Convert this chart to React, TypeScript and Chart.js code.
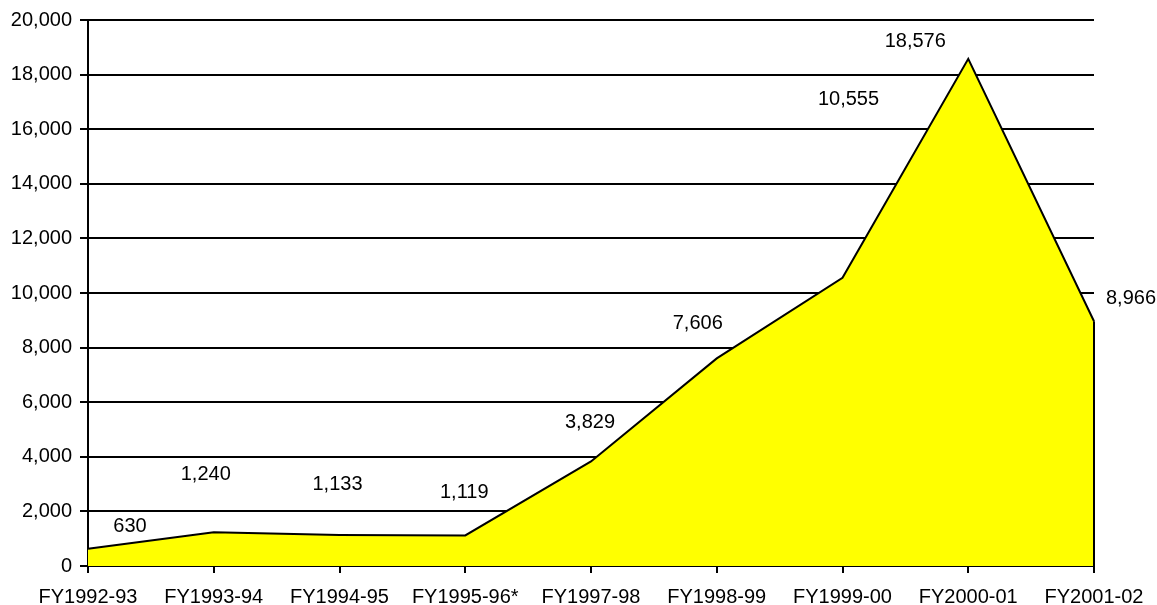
import React, { useEffect, useRef } from "react";
import { Chart, registerables } from "chart.js";

Chart.register(...registerables);

const categories = [
  "FY1992-93",
  "FY1993-94",
  "FY1994-95",
  "FY1995-96*",
  "FY1997-98",
  "FY1998-99",
  "FY1999-00",
  "FY2000-01",
  "FY2001-02",
];
const values = [630, 1240, 1133, 1119, 3829, 7606, 10555, 18576, 8966];
const valueLabels = ["630", "1,240", "1,133", "1,119", "3,829", "7,606", "10,555", "18,576", "8,966"];

// pixel offsets of each data label from its point (label layout only)
const labelOffsets: [number, number][] = [
  [42, -22],
  [-8, -58],
  [-2, -51],
  [-1, -43],
  [-1, -39],
  [-19, -35],
  [6, -178],
  [-53, -17],
  [37, -23],
];

const FONT = "'Liberation Sans', Arial, sans-serif";
const FONT_SIZE = 20;

const labelPlugin = {
  id: "customLabels",
  afterDatasetsDraw(chart: any) {
    const ctx = chart.ctx;
    const meta = chart.getDatasetMeta(0);
    const yScale = chart.scales.y;
    ctx.save();
    const last = meta.data[meta.data.length - 1];
    ctx.strokeStyle = "#000";
    ctx.lineWidth = 2;
    ctx.beginPath();
    ctx.moveTo(last.x, last.y);
    ctx.lineTo(last.x, yScale.getPixelForValue(0));
    ctx.stroke();

    ctx.fillStyle = "#000";
    ctx.font = `${FONT_SIZE}px ${FONT}`;
    ctx.textAlign = "center";
    ctx.textBaseline = "middle";
    meta.data.forEach((pt: any, i: number) => {
      const [dx, dy] = labelOffsets[i];
      ctx.fillText(valueLabels[i], pt.x + dx, pt.y + dy);
    });
    ctx.restore();
  },
};

export default function App() {
  const ref = useRef<HTMLCanvasElement | null>(null);
  useEffect(() => {
    document.body.style.margin = "0";
    const chart = new Chart(ref.current!, {
      type: "line",
      data: {
        labels: categories,
        datasets: [
          {
            data: values,
            borderColor: "#000",
            borderWidth: 2,
            backgroundColor: "#FFFF00",
            fill: "origin",
            pointRadius: 0,
            tension: 0,
          },
        ],
      },
      options: {
        animation: false,
        responsive: true,
        maintainAspectRatio: false,
        layout: { padding: { top: 17, right: 63, left: 0, bottom: 0 } },
        plugins: {
          legend: { display: false },
          tooltip: { enabled: false },
        },
        scales: {
          x: {
            offset: false,
            grid: {
              drawOnChartArea: false,
              drawTicks: true,
              tickLength: 7,
              color: "#000",
              lineWidth: 2,
            },
            border: { display: true, color: "#000", width: 2 },
            ticks: {
              color: "#000",
              font: { family: FONT, size: FONT_SIZE },
              padding: 12,
              maxRotation: 0,
              autoSkip: false,
            },
            afterFit(scale: any) {
              scale.height = 39;
            },
          },
          y: {
            min: 0,
            max: 20000,
            ticks: {
              stepSize: 2000,
              color: "#000",
              font: { family: FONT, size: FONT_SIZE },
              padding: 8,
              callback: (v: any) => Number(v).toLocaleString("en-US"),
            },
            grid: {
              color: "#000",
              lineWidth: 2,
              drawTicks: true,
              tickLength: 8,
            },
            border: { display: true, color: "#000", width: 2 },
            afterFit(scale: any) {
              scale.width = 88;
            },
          },
        },
      },
      plugins: [labelPlugin],
    });
    return () => chart.destroy();
  }, []);
  return (
    <div style={{ position: "fixed", left: 0, top: 0, width: 1157, height: 605 }}>
      <canvas ref={ref} />
    </div>
  );
}
